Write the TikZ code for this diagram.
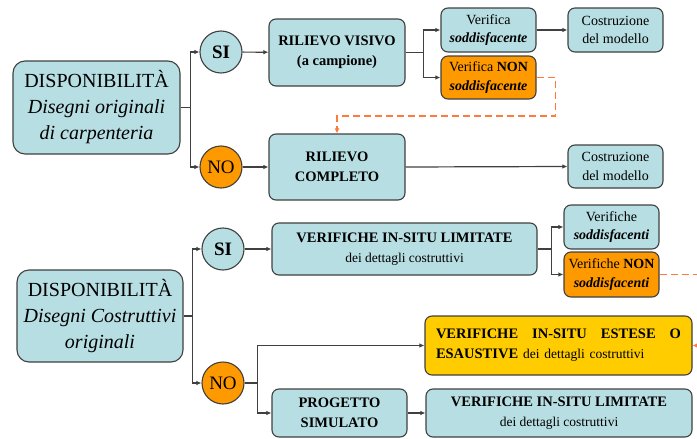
\documentclass[tikz,border=0pt]{standalone}
\usepackage{fontspec}
\setmainfont{Liberation Serif}
\usetikzlibrary{arrows.meta,positioning,calc}
\usepackage{xcolor}
\definecolor{boxblue}{HTML}{B7DEE2}
\definecolor{noorange}{HTML}{FF9900}
\definecolor{esyellow}{HTML}{FFCC00}
\definecolor{edgegray}{HTML}{404040}
\definecolor{dashorange}{HTML}{FF7A3D}

\begin{document}
\begin{tikzpicture}[x=1pt,y=-1pt,
  box/.style={draw=edgegray,fill=boxblue,line width=1.1pt,rounded corners=7pt,inner sep=0pt,align=center},
  bigbox/.style={box,rounded corners=12pt,font=\fontsize{20}{26}\selectfont},
  ans/.style={circle,draw=edgegray,line width=1.1pt,minimum size=42pt,inner sep=0pt,font=\fontsize{19}{19}\selectfont},
  link/.style={draw=edgegray,line width=1.2pt,-{Latex[length=5pt,width=4.5pt]}},
  back/.style={draw=dashorange,line width=1.5pt,dash pattern=on 7pt off 4pt,-{Latex[length=5pt,width=5pt]}},
  main/.style={font=\fontsize{14.5}{20}\selectfont\bfseries},
  small/.style={font=\fontsize{14}{18.5}\selectfont}]
\useasboundingbox (0,0) rectangle (697,439);
\clip (0,0) rectangle (697,439);

% upper part: original drawings
\node[bigbox,minimum width=167pt,minimum height=93pt] (dispA) at (96.5,107.5)
  {DISPONIBILITÀ\\\textit{Disegni originali}\\\textit{di carpenteria}};
\node[ans,fill=boxblue,font=\fontsize{19}{19}\selectfont\bfseries] (siA) at (221,52) {SI};
\node[ans,fill=noorange] (noA) at (221,167) {NO};
\node[box,main,minimum width=136pt,minimum height=67pt] (rvA) at (337,52.5)
  {RILIEVO VISIVO\\(a campione)};
\node[box,main,minimum width=136pt,minimum height=66pt] (rcA) at (337,167) {RILIEVO\\COMPLETO};
\node[box,small,minimum width=95pt,minimum height=44pt] (vsA) at (488.5,30)
  {Verifica\\\textbf{\textit{soddisfacente}}};
\node[box,small,fill=noorange,minimum width=95pt,minimum height=43pt] (vnA) at (488.5,77.5)
  {Verifica \textbf{NON}\\\textbf{\textit{soddisfacente}}};
\node[box,small,minimum width=95pt,minimum height=44pt] (cmA) at (615.5,30) {Costruzione\\del modello};
\node[box,small,minimum width=95pt,minimum height=43pt] (cmB) at (615.5,166.5) {Costruzione\\del modello};

\draw[link] (dispA.east) -- ++(10,0) |- (siA.west);
\draw[link] (dispA.east) -- ++(10,0) |- (noA.west);
\draw[link] (siA) -- (rvA);
\draw[link] (noA) -- (rcA);
\draw[link] (rvA.east) -- ++(18,0) |- (vsA.west);
\draw[link] (rvA.east) -- ++(18,0) |- (vnA.west);
\draw[link] (vsA) -- (cmA);
\draw[link] (rcA.east) -- (cmB.west);
\coordinate (bendA) at (337,116);
\draw[back] (vnA.east) -- ++(19,0) |- (bendA) -- (rcA.north);

% lower part: construction drawings
\node[bigbox,minimum width=166pt,minimum height=92pt] (dispB) at (100,316)
  {DISPONIBILITÀ\\\textit{Disegni Costruttivi}\\\textit{originali}};
\node[ans,fill=boxblue,font=\fontsize{19}{19}\selectfont\bfseries] (siB) at (223,249) {SI};
\node[ans,fill=noorange] (noB) at (223,383) {NO};
\node[box,main,minimum width=265pt,minimum height=52pt] (vlA) at (404.5,249)
  {VERIFICHE IN-SITU LIMITATE\\{\fontsize{13.5}{20}\selectfont\mdseries dei dettagli costruttivi}};
\node[box,small,minimum width=95pt,minimum height=44pt] (vsB) at (611.5,227)
  {Verifiche\\\textbf{\textit{soddisfacenti}}};
\node[box,small,fill=noorange,minimum width=95pt,minimum height=45pt] (vnB) at (611.5,274.5)
  {Verifiche \textbf{NON}\\\textbf{\textit{soddisfacenti}}};
\node[box,main,fill=esyellow,minimum width=267pt,minimum height=59pt,text width=245pt,align=left] (vesB) at (558.5,345.5)
  {\hbox to 245pt{VERIFICHE\hfill IN-SITU\hfill ESTESE\hfill O}\\ESAUSTIVE {\fontsize{13.5}{20}\selectfont\mdseries dei dettagli costruttivi}};
\node[box,main,minimum width=135pt,minimum height=48pt] (psB) at (339.5,413) {PROGETTO\\SIMULATO};
\node[box,main,minimum width=266pt,minimum height=48pt] (vlB) at (559,413)
  {VERIFICHE IN-SITU LIMITATE\\{\fontsize{13.5}{20}\selectfont\mdseries dei dettagli costruttivi}};

\draw[link] (dispB.east) -- ++(9,0) |- (siB.west);
\draw[link] (dispB.east) -- ++(9,0) |- (noB.west);
\draw[link] (siB) -- (vlA);
\draw[link] (vlA.east) -- ++(14,0) |- (vsB.west);
\draw[link] (vlA.east) -- ++(14,0) |- (vnB.west);
\draw[link] (noB.east) -- ++(13,0) |- (vesB.west);
\draw[link] (noB.east) -- ++(13,0) |- (psB.west);
\draw[link] (psB) -- (vlB);
\coordinate (edgeB) at (712,274.5);
\draw[back] (vnB.east) -- (edgeB) |- (vesB.east);
\end{tikzpicture}
\end{document}
